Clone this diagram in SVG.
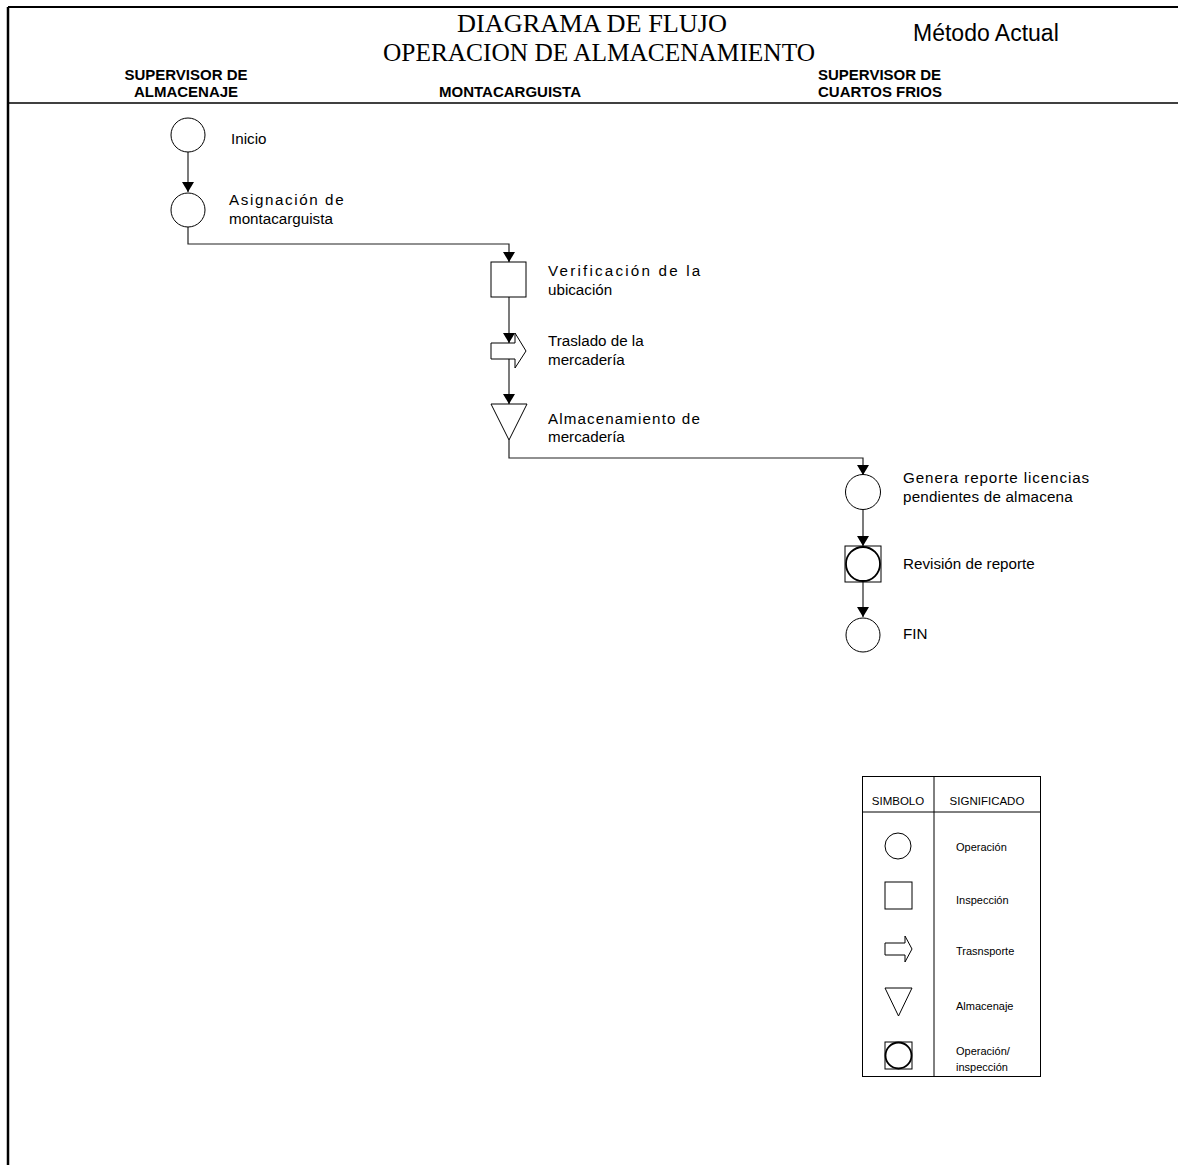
<svg xmlns="http://www.w3.org/2000/svg" width="1178" height="1165" viewBox="0 0 1178 1165">
  <style>
    .shape { fill: #fff; stroke: #000; stroke-width: 1; }
    .bold-ring { fill: none; stroke: #000; stroke-width: 1.8; }
    .conn { fill: none; stroke: #222; stroke-width: 1.2; }
    .frame { stroke: #000; fill: none; }
    .title { font-family: "Liberation Serif", "Times New Roman", serif; font-size: 25px; fill: #000; }
    .lane { font-family: "Liberation Sans", Arial, sans-serif; font-size: 15px; font-weight: bold; fill: #000; }
    .lbl { font-family: "Liberation Sans", Arial, sans-serif; font-size: 15.2px; fill: #000; }
    .leg { font-family: "Liberation Sans", Arial, sans-serif; font-size: 11px; fill: #000; }
    .leghead { font-family: "Liberation Sans", Arial, sans-serif; font-size: 11.5px; fill: #000; text-anchor: middle; }
  </style>
  <defs>
    <marker id="arrow" markerWidth="10" markerHeight="12" refX="10" refY="6" orient="auto" markerUnits="userSpaceOnUse">
      <path d="M0,0 L10,6 L0,12 Z" fill="#000"/>
    </marker>
  </defs>

  <rect width="1178" height="1165" fill="#fff"/>

  <!-- page frame and header -->
  <g id="frame">
    <line class="frame" x1="8" y1="7" x2="1178" y2="7" stroke-width="2"/>
    <line class="frame" x1="8" y1="7" x2="8" y2="1165" stroke-width="2.5"/>
    <line class="frame" x1="8" y1="103" x2="1178" y2="103" stroke-width="1.5"/>
    <text class="title" x="592" y="32" text-anchor="middle" textLength="270" lengthAdjust="spacingAndGlyphs">DIAGRAMA DE FLUJO</text>
    <text class="title" x="599" y="61" text-anchor="middle" textLength="432" lengthAdjust="spacingAndGlyphs">OPERACION DE ALMACENAMIENTO</text>
    <text x="913" y="41" font-family="Liberation Sans, Arial, sans-serif" font-size="23" fill="#000">Método Actual</text>
    <text class="lane" x="186" y="80" text-anchor="middle">SUPERVISOR DE</text>
    <text class="lane" x="186" y="97" text-anchor="middle">ALMACENAJE</text>
    <text class="lane" x="510" y="97" text-anchor="middle">MONTACARGUISTA</text>
    <text class="lane" x="818" y="80">SUPERVISOR DE</text>
    <text class="lane" x="818" y="97">CUARTOS FRIOS</text>
  </g>

  <!-- connectors -->
  <g id="connectors">
    <path class="conn" d="M188,152 L188,192" marker-end="url(#arrow)"/>
    <path class="conn" d="M188,227 L188,244 L509,244 L509,262" marker-end="url(#arrow)"/>
    <path class="conn" d="M509,297 L509,343" marker-end="url(#arrow)"/>
    <path class="conn" d="M509,359 L509,404" marker-end="url(#arrow)"/>
    <path class="conn" d="M509,440 L509,458 L863,458 L863,475" marker-end="url(#arrow)"/>
    <path class="conn" d="M863,510 L863,546" marker-end="url(#arrow)"/>
    <path class="conn" d="M863,582 L863,617" marker-end="url(#arrow)"/>
  </g>

  <!-- process steps -->
  <g id="inicio">
    <circle class="shape" cx="188" cy="135" r="17"/>
    <text class="lbl" x="231" y="144">Inicio</text>
  </g>
  <g id="asignacion">
    <circle class="shape" cx="188" cy="210" r="17"/>
    <text class="lbl" x="229" y="205" letter-spacing="1.6">Asignación de</text>
    <text class="lbl" x="229" y="224">montacarguista</text>
  </g>
  <g id="verificacion">
    <rect class="shape" x="491" y="262" width="35" height="35"/>
    <text class="lbl" x="548" y="276" letter-spacing="2.2">Verificación de la</text>
    <text class="lbl" x="548" y="295">ubicación</text>
  </g>
  <g id="traslado">
    <path class="shape" d="M491,343 L515,343 L515,333 L526,351 L515,368 L515,359 L491,359 Z"/>
    <text class="lbl" x="548" y="346">Traslado de la</text>
    <text class="lbl" x="548" y="365">mercadería</text>
  </g>
  <g id="almacenamiento">
    <path class="shape" d="M491,404 L527,404 L509,440 Z"/>
    <text class="lbl" x="548" y="424" letter-spacing="1.1">Almacenamiento de</text>
    <text class="lbl" x="548" y="442">mercadería</text>
  </g>
  <g id="genera-reporte">
    <circle class="shape" cx="863" cy="492" r="17.5"/>
    <text class="lbl" x="903" y="483" letter-spacing="0.9">Genera reporte licencias</text>
    <text class="lbl" x="903" y="502" letter-spacing="0.2">pendientes de almacena</text>
  </g>
  <g id="revision">
    <rect class="shape" x="845" y="546" width="36" height="36"/>
    <circle class="bold-ring" cx="863" cy="564" r="17"/>
    <text class="lbl" x="903" y="569">Revisión de reporte</text>
  </g>
  <g id="fin">
    <circle class="shape" cx="863" cy="635" r="17"/>
    <text class="lbl" x="903" y="639">FIN</text>
  </g>

  <!-- symbol legend -->
  <g id="legend">
    <rect class="shape" x="862.5" y="776.5" width="178" height="300"/>
    <line class="frame" x1="934" y1="776.5" x2="934" y2="1076.5" stroke-width="1"/>
    <line class="frame" x1="862.5" y1="812" x2="1040.5" y2="812" stroke-width="1"/>
    <text class="leghead" x="898" y="805">SIMBOLO</text>
    <text class="leghead" x="987" y="805">SIGNIFICADO</text>

    <circle class="shape" cx="898" cy="846" r="13"/>
    <text class="leg" x="956" y="851">Operación</text>

    <rect class="shape" x="885" y="882" width="27" height="27"/>
    <text class="leg" x="956" y="904">Inspección</text>

    <path class="shape" d="M885,943 L905,943 L905,936 L912,949 L905,962 L905,955 L885,955 Z"/>
    <text class="leg" x="956" y="955">Trasnsporte</text>

    <path class="shape" d="M885,988 L912,988 L898.5,1016 Z"/>
    <text class="leg" x="956" y="1010">Almacenaje</text>

    <rect class="shape" x="885" y="1042" width="27" height="27"/>
    <circle class="bold-ring" cx="898.5" cy="1055.5" r="13"/>
    <text class="leg" x="956" y="1055">Operación/</text>
    <text class="leg" x="956" y="1071">inspección</text>
  </g>
</svg>
